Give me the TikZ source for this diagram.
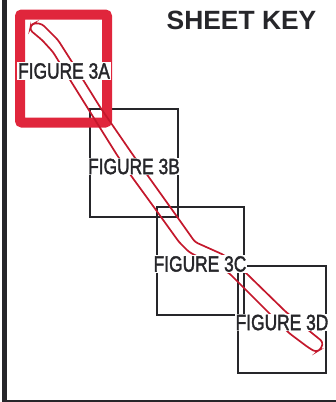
\documentclass[tikz,border=0pt]{standalone}
\usepackage{fontspec}
\setmainfont{Liberation Sans}
\newfontfamily\labelfont[FakeBold=2]{Liberation Sans}
\usetikzlibrary{calc}
\definecolor{keyred}{HTML}{E0263C}
\definecolor{roadred}{HTML}{C4182C}
\definecolor{ink}{HTML}{26262A}
\newcommand{\figtext}[1]{\scalebox{0.79}[1]{\labelfont\fontsize{22}{24}\selectfont #1}}
\tikzset{
  sheetbox/.style={draw=ink,line width=2pt},
  keybox/.style={draw=keyred,line width=10pt,rounded corners=2pt},
  road/.style={draw=roadred,line width=1.7pt,rounded corners=3pt},
  figlabel/.style={fill=white,text=ink,inner sep=1pt},
  title/.style={text=ink,font=\bfseries\fontsize{26.4}{28}\selectfont,inner sep=0pt},
}
\begin{document}
\begin{tikzpicture}[x=1pt,y=-1pt]
\useasboundingbox (0,0) rectangle (336,402);
\fill[white] (0,0) rectangle (336,402);
\fill[ink] (2,0) rectangle (7,402);
\fill[ink] (2,400) rectangle (336,402);
\draw[sheetbox] (90,109) rectangle (178,217);
\draw[sheetbox] (157,207) rectangle (243.5,314.5);
\draw[sheetbox] (237.5,266) rectangle (325.5,373);
\draw[keybox] (20,14.5) rectangle (107,122.5);
\draw[road] (30,30) -- (31,25) -- (35,23) -- (42,24) -- (58,40) -- (72,62) -- (100,107) -- (133,155) -- (178,218) -- (195,242) -- (224,255) -- (246,273) -- (286,312) -- (323,342) -- (321,349) -- (316,352) -- (309,348) -- (289,333) -- (266,310) -- (229,273) -- (189,252) -- (179,242) -- (156,210) -- (132,177) -- (117,155) -- (72,83) -- (53,52) -- (42,40) -- cycle;
\node[figlabel] (a) at (64,71) {\figtext{FIGURE 3A}};
\node[figlabel] (b) at (134,166.5) {\figtext{FIGURE 3B}};
\node[figlabel] (c) at (200,264) {\figtext{FIGURE 3C}};
\node[figlabel] (d) at (282,322.5) {\figtext{FIGURE 3D}};
\node[title] (t) at (241.5,20) {SHEET KEY};
\end{tikzpicture}
\end{document}
